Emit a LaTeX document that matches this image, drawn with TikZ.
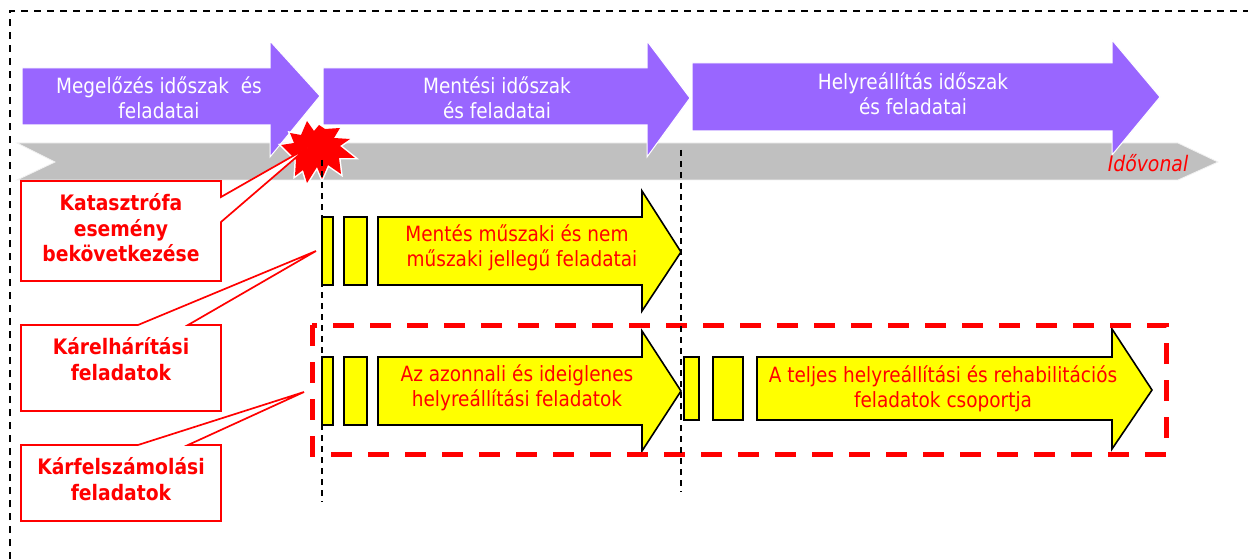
\documentclass[tikz,border=0pt]{standalone}
\usepackage{fontspec}
\setmainfont{DejaVu Sans}[FakeStretch=0.88]
\definecolor{purp}{HTML}{9966FF}
\definecolor{grayband}{HTML}{C0C0C0}
\definecolor{yel}{HTML}{FFFF00}
\tikzset{
  frameline/.style={black,line width=1.5pt,dash pattern=on 7pt off 6pt},
  guide/.style={black,line width=1.3pt,dash pattern=on 6pt off 5pt},
  purplearrow/.style={fill=purp,draw=white,line width=1pt},
  band/.style={fill=grayband,draw=white!90!gray,line width=.8pt},
  yelbox/.style={fill=yel,draw=black,line width=1.6pt},
  callout/.style={fill=white,draw=red,line width=1.7pt},
  burst/.style={fill=red,preaction={draw=white,line width=3pt}},
  group/.style={draw=red,line width=5pt,dash pattern=on 21pt off 16pt},
  wtext/.style={text=white,font=\fontsize{21}{25}\selectfont,align=center,inner sep=0pt},
  rtext/.style={text=red,font=\fontsize{21}{25.5}\selectfont,align=center,inner sep=0pt},
  btext/.style={text=red,font=\fontsize{21.3}{25.5}\selectfont\bfseries,align=center,inner sep=0pt},
  itext/.style={text=red,font=\fontsize{21.4}{24}\selectfont\itshape,inner sep=0pt}
}
\begin{document}
\begin{tikzpicture}[x=1pt,y=-1pt]
\useasboundingbox (0,0) rectangle (1248,559);
\fill[white] (0,0) rectangle (1248,559);
% outer frame
\coordinate (fbl) at (10,559);
\coordinate (ftl) at (10,11);
\coordinate (ftr) at (1248,11);
\draw[frameline] (fbl) -- (ftl) -- (ftr);
% time band
\draw[band] (17,143) -- (1178,143) -- (1218,162) -- (1178,180) -- (17,180) -- (55,162) -- cycle;
% purple arrows
\draw[purplearrow] (22,68) -- (270,68) -- (270,41) -- (320,96) -- (270,157) -- (270,125) -- (22,125) -- cycle;
\draw[purplearrow] (323,68) -- (647,68) -- (647,41) -- (690,98) -- (647,157) -- (647,125) -- (323,125) -- cycle;
\draw[purplearrow] (692,63) -- (1112,63) -- (1112,40) -- (1160,97) -- (1112,155) -- (1112,131) -- (692,131) -- cycle;
\node[wtext] (t1) at (159,98) {Megelőzés időszak \ és\\feladatai};
\node[wtext] (t2) at (497,98) {Mentési időszak\\és feladatai};
\node[wtext] (t3) at (913,94) {Helyreállítás időszak\\és feladatai};
\node[itext] (ido) at (1148,163) {Idővonal};
% burst
\path[burst] (307,121) -- (314,131) -- (319,125) -- (325,129) -- (340,128) -- (334,138) -- (350,139) -- (340,146) -- (355,158) -- (339,158) -- (341,174) -- (328,165) -- (322,179) -- (317,167) -- (307,183) -- (303,170) -- (295,176) -- (296,160) -- (281,145) -- (294,143) -- (290,133) -- (301,135) -- cycle;
% yellow row 1
\node[yelbox,inner sep=0pt,minimum width=11pt,minimum height=68pt] (a1) at (327.5,251) {};
\node[yelbox,inner sep=0pt,minimum width=23pt,minimum height=68pt] (a2) at (355.5,251) {};
\draw[yelbox] (378,217) -- (642,217) -- (642,191) -- (681,252) -- (642,311) -- (642,285) -- (378,285) -- cycle;
\node[rtext] (ta) at (522,248) {Mentés műszaki és nem\hspace*{10pt}\\műszaki jellegű feladatai};
% yellow row 2
\node[yelbox,inner sep=0pt,minimum width=11pt,minimum height=68pt] (b1) at (327.5,391) {};
\node[yelbox,inner sep=0pt,minimum width=23pt,minimum height=68pt] (b2) at (355.5,391) {};
\draw[yelbox] (378,357) -- (642,357) -- (642,331) -- (681,391) -- (642,451) -- (642,425) -- (378,425) -- cycle;
\node[rtext] (tb) at (517,388) {Az azonnali és ideiglenes\\helyreállítási feladatok};
\node[yelbox,inner sep=0pt,minimum width=15pt,minimum height=63pt] (c1) at (691.5,388.5) {};
\node[yelbox,inner sep=0pt,minimum width=30pt,minimum height=63pt] (c2) at (728,388.5) {};
\draw[yelbox] (757,357) -- (1112,357) -- (1112,329) -- (1152,390) -- (1112,449) -- (1112,420) -- (757,420) -- cycle;
\node[rtext] (tc) at (943,389) {A teljes helyreállítási és rehabilitációs\\feladatok csoportja};
% red dashed group
\draw[group] (312,325) rectangle (1166,454);
% guides
\coordinate (g1a) at (322,160); \coordinate (g1b) at (322,502);
\coordinate (g2a) at (681,150); \coordinate (g2b) at (681,492);
\draw[guide] (g1a) -- (g1b);
\draw[guide] (g2a) -- (g2b);
% callouts
\draw[callout] (21,181) -- (221,181) -- (221,197) -- (307,148) -- (221,222) -- (221,281) -- (21,281) -- cycle;
\node[btext] (k1) at (121,228) {Katasztrófa\\esemény\\bekövetkezése};
\draw[callout] (21,325) -- (138,325) -- (316,251) -- (188,325) -- (221,325) -- (221,411) -- (21,411) -- cycle;
\node[btext] (k2) at (121,359) {Kárelhárítási\\feladatok};
\draw[callout] (21,445) -- (138,445) -- (304,392) -- (188,445) -- (221,445) -- (221,521) -- (21,521) -- cycle;
\node[btext] (k3) at (121,479) {Kárfelszámolási\\feladatok};
\end{tikzpicture}
\end{document}
